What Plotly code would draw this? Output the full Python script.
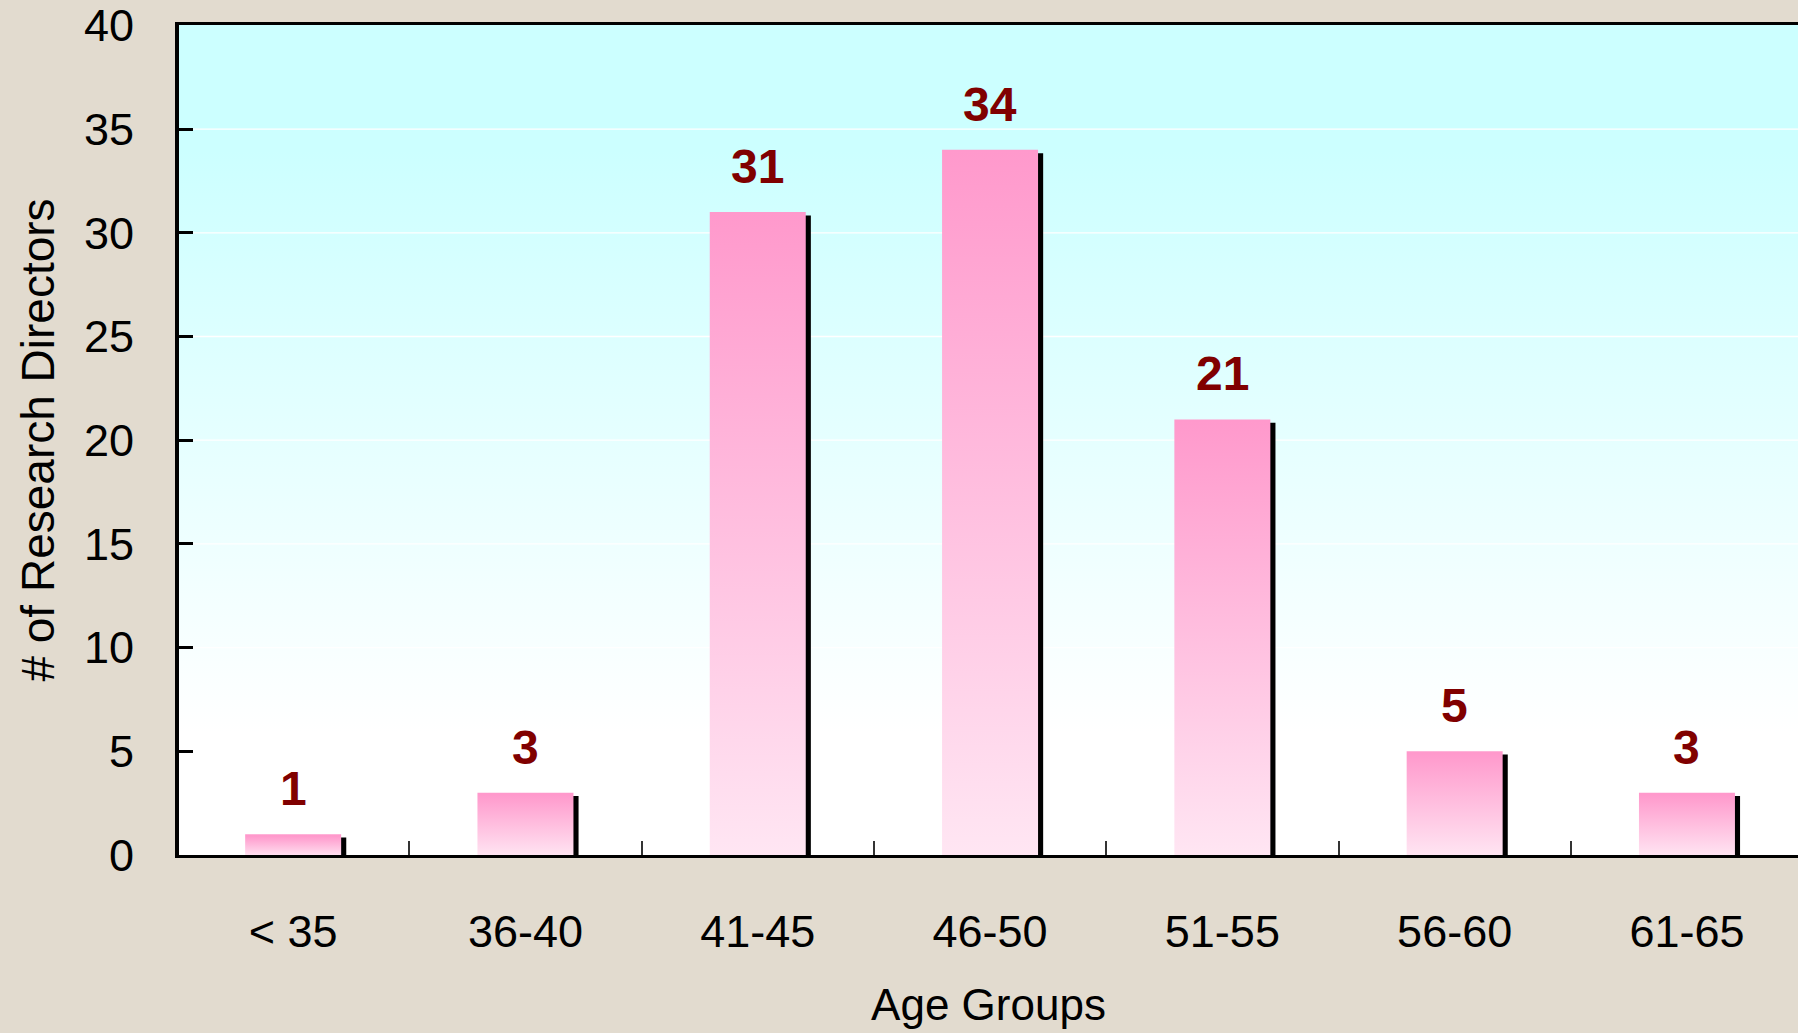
import plotly.graph_objects as go

# Age distribution of research directors
age_groups = ["< 35", "36-40", "41-45", "46-50", "51-55", "56-60", "61-65"]
directors = [1, 3, 31, 34, 21, 5, 3]

y_ticks = [0, 5, 10, 15, 20, 25, 30, 35, 40]
Y_MAX = 40
X_MIN, X_MAX = -0.4914, 6.478

BAR_HALF = 0.2066          # half bar width in category units
SHADOW_DX = 0.022          # drop shadow offset to the right (x units)
SHADOW_DY = 0.16           # drop shadow offset downward (y units)

PAPER_BG = "#E2DBCF"
BAR_TOP = "#FF99CC"
BAR_BOTTOM = "#FFE6F3"
LABEL_COLOR = "#800000"
FONT = "Liberation Sans, Arial, sans-serif"

fig = go.Figure()

# plot-area background: cyan fading to white towards the baseline
fig.add_trace(go.Scatter(
    x=[X_MIN - 1, X_MAX + 1, X_MAX + 1, X_MIN - 1, X_MIN - 1],
    y=[0, 0, Y_MAX + 1, Y_MAX + 1, 0],
    mode="lines", line=dict(width=0), fill="toself",
    fillgradient=dict(type="vertical", start=0, stop=Y_MAX,
                      colorscale=[[0, "#FFFFFF"], [0.15, "#FFFFFF"],
                                  [0.85, "#CCFFFF"], [1, "#CCFFFF"]]),
    hoverinfo="skip", showlegend=False,
))

# white horizontal gridlines
for v in y_ticks[1:-1]:
    fig.add_trace(go.Scatter(
        x=[X_MIN - 1, X_MAX + 1], y=[v, v], mode="lines",
        line=dict(color="white", width=1.3),
        hoverinfo="skip", showlegend=False,
    ))

# drop shadows behind each bar
for i, v in enumerate(directors):
    x0, x1 = i - BAR_HALF + SHADOW_DX, i + BAR_HALF + SHADOW_DX
    top = v - SHADOW_DY
    fig.add_trace(go.Scatter(
        x=[x0, x1, x1, x0, x0], y=[0, 0, top, top, 0],
        mode="lines", line=dict(width=0), fill="toself", fillcolor="black",
        hoverinfo="skip", showlegend=False,
    ))

# gradient-filled bars
for i, v in enumerate(directors):
    x0, x1 = i - BAR_HALF, i + BAR_HALF
    fig.add_trace(go.Scatter(
        x=[x0, x1, x1, x0, x0], y=[0, 0, v, v, 0],
        mode="lines", line=dict(width=0), fill="toself",
        fillgradient=dict(type="vertical", start=0, stop=v,
                          colorscale=[[0, BAR_BOTTOM], [1, BAR_TOP]]),
        name=age_groups[i], hoverinfo="skip", showlegend=False,
    ))

# value labels above bars
for i, v in enumerate(directors):
    fig.add_annotation(
        x=i, y=v, text=str(v), showarrow=False,
        yanchor="bottom", yshift=17,
        font=dict(family=FONT, size=48, color=LABEL_COLOR, weight="bold"),
    )

fig.update_layout(
    width=1798, height=1033,
    margin=dict(l=179, r=0, t=23, b=178),
    paper_bgcolor=PAPER_BG, plot_bgcolor="white",
    font=dict(family=FONT, color="black"),
    xaxis=dict(
        range=[X_MIN, X_MAX],
        tickmode="array", tickvals=list(range(len(age_groups))), ticktext=age_groups,
        ticks="", showgrid=False, zeroline=False,
        showline=True, linecolor="black", linewidth=3, mirror=True,
        tickfont=dict(size=45), ticklabelstandoff=35,
        minor=dict(tick0=0.5, dtick=1, ticks="inside", ticklen=14,
                   tickwidth=1.5, tickcolor="#333333", showgrid=False),
        title=dict(text="Age Groups", font=dict(size=44), standoff=34),
    ),
    yaxis=dict(
        range=[0, Y_MAX + 0.02],
        tickmode="array", tickvals=y_ticks,
        ticks="inside", ticklen=14, tickwidth=3, tickcolor="black",
        showgrid=False, zeroline=False,
        showline=True, linecolor="black", linewidth=4,
        tickfont=dict(size=45), ticklabelstandoff=32,
        ticklabeloverflow="allow",
        title=dict(text="# of Research Directors", font=dict(size=46), standoff=16),
    ),
)

fig.write_html("out.html")
